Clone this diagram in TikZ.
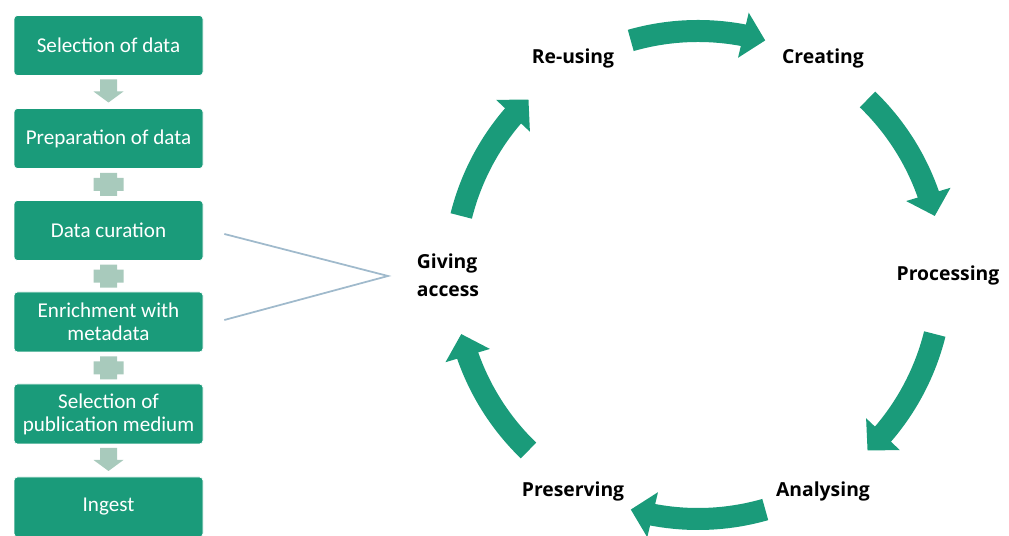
\documentclass[tikz,border=0pt]{standalone}
\usepackage{fontspec}
\setmainfont{Carlito}
\newfontfamily\phasefont{Open Sans}
\usetikzlibrary{calc,positioning,arrows.meta,bending}

\definecolor{stepgreen}{RGB}{26,155,122}
\definecolor{gapgrey}{RGB}{168,202,188}
\definecolor{linkblue}{RGB}{160,186,204}

\begin{document}
\begin{tikzpicture}[
    box/.style={fill=stepgreen, draw=white, rounded corners=2pt, text=white,
      minimum width=3.78cm, minimum height=1.2cm, align=center,
      font=\fontsize{12}{13}\selectfont},
    phase/.style={font=\phasefont\bfseries\fontsize{11}{16}\selectfont, align=left},
    cycle arrow/.style={stepgreen, line width=0.44cm,
      -{Triangle[width=0.9cm,length=0.45cm]}},
    downmark/.pic={
      \fill[gapgrey] (-0.17,0.25) -- (0.17,0.25) -- (0.17,0.01) -- (0.3,0.01)
        -- (0,-0.21) -- (-0.3,0.01) -- (-0.17,0.01) -- cycle;},
    plusmark/.pic={
      \fill[gapgrey] (-0.17,0.23) -- (0.17,0.23) -- (0.17,0.13) -- (0.3,0.13)
        -- (0.3,-0.13) -- (0.17,-0.13) -- (0.17,-0.23) -- (-0.17,-0.23)
        -- (-0.17,-0.13) -- (-0.3,-0.13) -- (-0.3,0.13) -- (-0.17,0.13) -- cycle;}
  ]
    \useasboundingbox (0,0) rectangle (20.18,10.72);

    % workflow steps
    \node[box] (sel) at (2.17,9.81) {Selection of data};
    \node[box] (prep) at (2.17,7.95) {Preparation of data};
    \node[box] (cur) at (2.17,6.11) {Data curation};
    \node[box] (enrich) at (2.17,4.28) {Enrichment with\\metadata};
    \node[box] (pub) at (2.17,2.44) {Selection of\\publication medium};
    \node[box] (ingest) at (2.17,0.58) {Ingest};

    \pic at ($(sel.south)!0.5!(prep.north)$) {downmark};
    \pic at ($(prep.south)!0.5!(cur.north)$) {plusmark};
    \pic at ($(cur.south)!0.5!(enrich.north)$) {plusmark};
    \pic at ($(enrich.south)!0.5!(pub.north)$) {plusmark};
    \pic at ($(pub.south)!0.5!(ingest.north)$) {downmark};

    % life cycle
    \coordinate (ring) at (13.96,5.22);
    \node[phase] (reuse) at ($(ring)+(120:5)$) {Re-using};
    \node[phase] (create) at ($(ring)+(60:5)$) {Creating};
    \node[phase] (process) at ($(ring)+(0:5)$) {Processing};
    \node[phase] (analyse) at ($(ring)+(-60:5)$) {Analysing};
    \node[phase] (preserve) at ($(ring)+(-120:5)$) {Preserving};
    \node[phase] (access) at ($(ring)+(180:5)$) {Giving\\access};

    \draw[cycle arrow] ($(ring)+(106:4.88)$) arc[start angle=106, end angle=74, radius=4.88cm];
    \draw[cycle arrow] ($(ring)+(46:4.88)$) arc[start angle=46, end angle=14, radius=4.88cm];
    \draw[cycle arrow] ($(ring)+(-14:4.88)$) arc[start angle=-14, end angle=-46, radius=4.88cm];
    \draw[cycle arrow] ($(ring)+(-74:4.88)$) arc[start angle=-74, end angle=-106, radius=4.88cm];
    \draw[cycle arrow] ($(ring)+(-134:4.88)$) arc[start angle=-134, end angle=-166, radius=4.88cm];
    \draw[cycle arrow] ($(ring)+(166:4.88)$) arc[start angle=166, end angle=134, radius=4.88cm];

    % link from curation steps to giving access
    \coordinate (meet) at (7.76,5.2);
    \draw[linkblue, line width=1pt] ([shift={(0.42,-0.07)}]cur.east) -- (meet)
      -- ([shift={(0.42,0.04)}]enrich.east);
\end{tikzpicture}
\end{document}
